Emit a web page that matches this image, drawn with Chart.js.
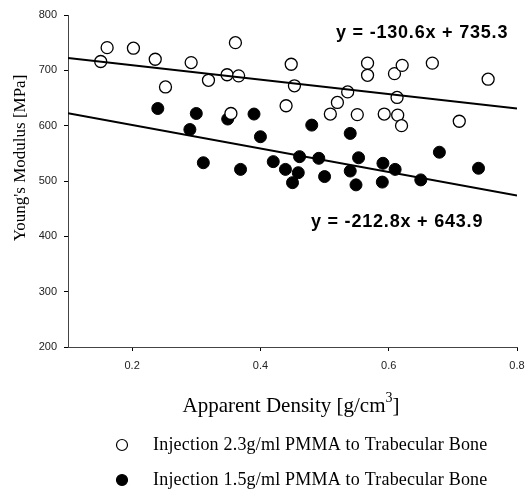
<!DOCTYPE html>
<html>
<head>
  <title>Young's Modulus vs Apparent Density</title>
  <script src="https://cdn.jsdelivr.net/npm/chart.js@4.4.0/dist/chart.umd.min.js"></script>
  <style>
    body { margin: 0; background: #fff; }
    canvas { display: block; }
  </style>
</head>
<body>
  <canvas id="modulusChart" width="526" height="494"></canvas>
  <script>
    // Open circles: 2.3 g/ml PMMA injection
    const densityHigh = [0.151, 0.161, 0.202, 0.236, 0.252, 0.292, 0.319, 0.348, 0.354, 0.361,
      0.366, 0.440, 0.448, 0.453, 0.509, 0.520, 0.536, 0.551, 0.567, 0.567,
      0.593, 0.609, 0.613, 0.614, 0.620, 0.621, 0.668, 0.710, 0.755];
    const modulusHigh = [716, 741, 740, 720, 670, 714, 682, 692, 622, 750,
      690, 636, 711, 672, 621, 642, 661, 620, 713, 691,
      621, 694, 651, 619, 600, 709, 713, 608, 684];

    // Filled circles: 1.5 g/ml PMMA injection
    const densityLow = [0.240, 0.290, 0.300, 0.311, 0.349, 0.369, 0.390, 0.400, 0.420, 0.439,
      0.450, 0.459, 0.461, 0.480, 0.491, 0.500, 0.540, 0.540, 0.549, 0.553,
      0.590, 0.591, 0.610, 0.650, 0.679, 0.740];
    const modulusLow = [631, 593, 622, 533, 612, 521, 621, 580, 535, 521,
      497, 515, 544, 601, 541, 508, 518, 586, 493, 542,
      498, 532, 521, 502, 552, 523];

    // Fitted lines (end points at x = 0.1 and 0.8)
    const fitX = [0.1, 0.8];
    const fitHighY = [722.2, 630.8];
    const fitLowY = [622.6, 473.7];
    const fitHighLabel = 'y = -130.6x + 735.3';
    const fitLowLabel = 'y = -212.8x + 643.9';

    const xTickValues = [0.2, 0.4, 0.6, 0.8];
    const seriesLabels = ['Injection 2.3g/ml PMMA to Trabecular Bone', 'Injection 1.5g/ml PMMA to Trabecular Bone'];

    const toPoints = (xs, ys) => xs.map((x, i) => ({ x: x, y: ys[i] }));

    const SERIF = '"Liberation Serif", "Times New Roman", serif';
    const SANS = '"Liberation Sans", Arial, sans-serif';

    // titles, equations and legend drawn on top
    const annotations = {
      id: 'annotations',
      afterDraw(chart) {
        const ctx = chart.ctx;
        const xs = chart.scales.x;
        const ys = chart.scales.y;
        ctx.save();
        ctx.fillStyle = '#000';
        ctx.textBaseline = 'middle';

        // equations
        ctx.font = 'bold 18px ' + SANS;
        ctx.letterSpacing = '0.8px';
        ctx.textAlign = 'center';
        ctx.fillText(fitHighLabel, xs.getPixelForValue(0.652), ys.getPixelForValue(767));
        ctx.fillText(fitLowLabel, xs.getPixelForValue(0.613), ys.getPixelForValue(426));
        ctx.letterSpacing = '0px';

        // y axis title
        ctx.save();
        ctx.translate(21, 158);
        ctx.rotate(-Math.PI / 2);
        ctx.font = '17px ' + SERIF;
        ctx.fillText("Young's Modulus [MPa]", 0, 0);
        ctx.restore();

        // x axis title with superscript
        ctx.font = '21px ' + SERIF;
        const main = 'Apparent Density [g/cm';
        const wMain = ctx.measureText(main).width;
        ctx.font = '14px ' + SERIF;
        const wSup = ctx.measureText('3').width;
        ctx.font = '21px ' + SERIF;
        const wEnd = ctx.measureText(']').width;
        let x0 = 291 - (wMain + wSup + wEnd) / 2;
        ctx.textAlign = 'left';
        ctx.fillText(main, x0, 406);
        ctx.font = '14px ' + SERIF;
        ctx.fillText('3', x0 + wMain, 398);
        ctx.font = '21px ' + SERIF;
        ctx.fillText(']', x0 + wMain + wSup, 406);

        // legend
        const rows = [445, 480];
        rows.forEach((yy, i) => {
          ctx.beginPath();
          ctx.arc(122, yy, 5.5, 0, Math.PI * 2);
          ctx.lineWidth = 1.2;
          ctx.strokeStyle = '#000';
          ctx.fillStyle = i === 0 ? '#fff' : '#000';
          ctx.fill();
          ctx.stroke();
          ctx.fillStyle = '#000';
          ctx.font = '18px ' + SERIF;
          ctx.letterSpacing = '0.2px';
          ctx.fillText(seriesLabels[i], 153, yy);
          ctx.letterSpacing = '0px';
        });
        ctx.restore();
      }
    };

    const ctx = document.getElementById('modulusChart').getContext('2d');
    new Chart(ctx, {
      type: 'scatter',
      data: {
        datasets: [
          {
            type: 'line',
            data: toPoints(fitX, fitHighY),
            borderColor: '#000',
            borderWidth: 2,
            pointRadius: 0,
            fill: false,
            order: 0
          },
          {
            type: 'line',
            data: toPoints(fitX, fitLowY),
            borderColor: '#000',
            borderWidth: 2,
            pointRadius: 0,
            fill: false,
            order: 0
          },
          {
            label: seriesLabels[0],
            data: toPoints(densityHigh, modulusHigh),
            pointRadius: 6,
            pointBackgroundColor: '#fff',
            pointBorderColor: '#000',
            pointBorderWidth: 1.3,
            order: 1
          },
          {
            label: seriesLabels[1],
            data: toPoints(densityLow, modulusLow),
            pointRadius: 6,
            pointBackgroundColor: '#000',
            pointBorderColor: '#000',
            pointBorderWidth: 1,
            order: 2
          }
        ]
      },
      options: {
        responsive: false,
        animation: false,
        layout: { padding: { top: 15, right: 9, left: 0, bottom: 0 } },
        plugins: {
          legend: { display: false },
          tooltip: { enabled: false }
        },
        scales: {
          x: {
            type: 'linear',
            min: 0.1,
            max: 0.8,
            afterBuildTicks: (scale) => { scale.ticks = xTickValues.map(v => ({ value: v })); },
            afterFit: (scale) => {
              scale.height = 147;
              scale.paddingLeft = 0;
              scale.paddingRight = 0;
            },
            grid: { drawOnChartArea: false, drawTicks: true, tickLength: 4, color: '#000' },
            border: { color: '#444', width: 1 },
            ticks: {
              padding: 8,
              color: '#222',
              font: { family: SANS, size: 11 },
              maxRotation: 0,
              callback: (v) => String(v)
            }
          },
          y: {
            min: 200,
            max: 800,
            afterFit: (scale) => { scale.width = 68; },
            grid: { drawOnChartArea: false, drawTicks: true, tickLength: 4, color: '#000' },
            border: { color: '#444', width: 1 },
            ticks: {
              stepSize: 100,
              padding: 7,
              color: '#222',
              font: { family: SANS, size: 11 }
            }
          }
        }
      },
      plugins: [annotations]
    });
  </script>
</body>
</html>
